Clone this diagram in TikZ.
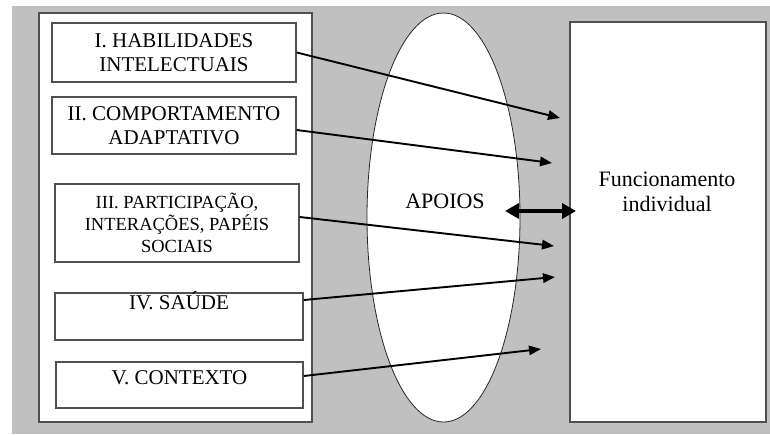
\documentclass[tikz,border=0pt]{standalone}
\usepackage{fontspec}
\setmainfont{Liberation Serif}
\usetikzlibrary{shapes.geometric,arrows.meta}
\definecolor{bggrey}{RGB}{192,192,192}
\definecolor{edge}{RGB}{80,80,80}
\tikzset{
  boxshape/.style={draw=edge, line width=1.4pt, fill=white, rectangle, inner sep=0pt, align=center,
    font={\fontsize{21}{23.5}\selectfont}},
  txt/.style={inner sep=0pt, font={\fontsize{21}{23.5}\selectfont}},
  bigtxt/.style={inner sep=0pt, align=center, font={\fontsize{22}{24.5}\selectfont}},
  conn/.style={line width=1.9pt, -{Triangle[length=12pt,width=9.5pt]}},
  dblconn/.style={line width=4pt, {Triangle[length=14pt,width=15pt]}-{Triangle[length=14pt,width=15pt]}}
}
\begin{document}
\begin{tikzpicture}[x=1pt,y=-1pt]
\useasboundingbox (0,0) rectangle (770,434);
\fill[bggrey] (12,6) rectangle (770,434);
% outer container
\node[boxshape, minimum width=273pt, minimum height=409pt] (outer) at (175.5,217.5) {};
% boxes
\node[boxshape, minimum width=244pt, minimum height=59pt] (b1) at (174,52.5) {I. HABILIDADES\\INTELECTUAIS};
\node[boxshape, minimum width=244pt, minimum height=57pt] (b2) at (174,125.5) {II. COMPORTAMENTO\\ADAPTATIVO};
\node[boxshape, minimum width=244pt, minimum height=78pt, font={\fontsize{18.5}{22}\selectfont}] (b3) at (177,223) {III. PARTICIPAÇÃO,\\INTERAÇÕES, PAPÉIS\\SOCIAIS};
\node[boxshape, minimum width=248pt, minimum height=47pt] (b4) at (179,316.5) {};
\node[txt, anchor=base] (t4) at (179,309) {IV. SAÚDE};
\node[boxshape, minimum width=247pt, minimum height=46pt] (b5) at (179.5,385) {};
\node[txt, anchor=base] (t5) at (179.5,384) {V. CONTEXTO};
% ellipse
\node[draw=black!85, line width=0.8pt, fill=white, ellipse, inner sep=0pt,
      minimum width=153pt, minimum height=409pt] (ell) at (443.5,217.5) {};
\node[bigtxt] (apoios) at (445,201) {APOIOS};
% right rectangle
\node[boxshape, minimum width=196pt, minimum height=400pt] (func) at (668,222) {};
\node[bigtxt] (functxt) at (667,192) {Funcionamento\\individual};
% arrow ends
\coordinate (e1) at (560,118);
\coordinate (e2) at (552,163);
\coordinate (e3) at (554,246);
\coordinate (e4) at (555,277);
\coordinate (e5) at (541,349);
\draw[conn] (b1.east) -- (e1);
\draw[conn] ([yshift=-4.5pt]b2.east) -- (e2);
\draw[conn] ([yshift=6pt]b3.east) -- (e3);
\draw[conn] ([yshift=16.5pt]b4.east) -- (e4);
\draw[conn] ([yshift=9pt]b5.east) -- (e5);
% double arrow
\coordinate (d1) at (505,211);
\coordinate (d2) at (576,211);
\draw[dblconn] (d1) -- (d2);
\end{tikzpicture}
\end{document}
